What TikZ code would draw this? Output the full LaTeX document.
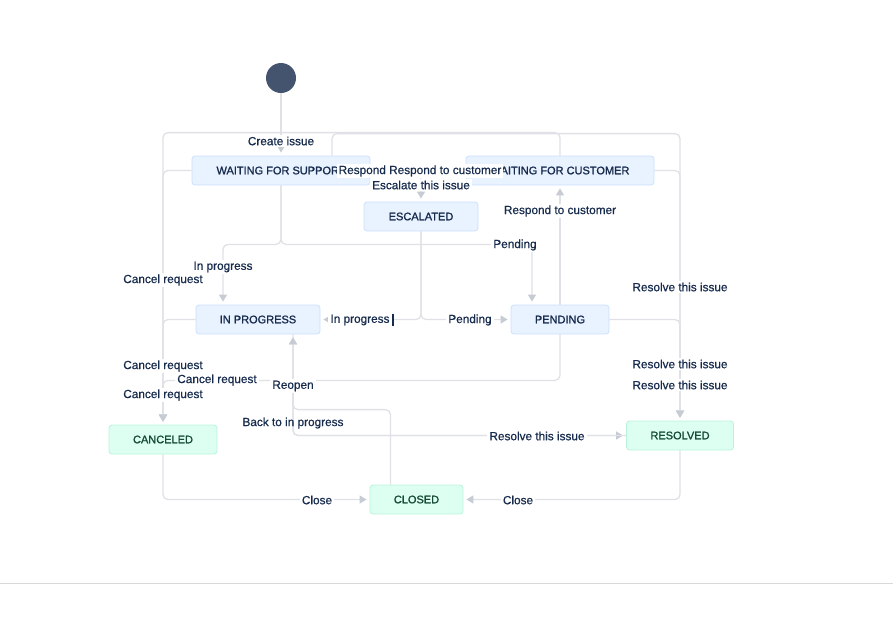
\documentclass[tikz,border=0pt]{standalone}
\usepackage{fontspec}
\setmainfont{Liberation Sans}
\newfontfamily\statusfont{Liberation Sans}[BoldFont={Liberation Sans}, BoldFeatures={FakeBold=1.3}]
\newfontfamily\labelfont{Liberation Sans}[BoldFont={Liberation Sans}, BoldFeatures={FakeBold=0.6}]
\usetikzlibrary{shapes,arrows.meta}

\definecolor{jiranavy}{HTML}{172B4D}
\definecolor{bluefill}{HTML}{E9F2FF}
\definecolor{blueline}{HTML}{CCE0FF}
\definecolor{greenfill}{HTML}{DCFFF1}
\definecolor{greenline}{HTML}{BAF3DB}
\definecolor{greentext}{HTML}{164B35}
\definecolor{startfill}{HTML}{44546F}
\definecolor{linegray}{HTML}{DFE1E6}
\definecolor{tipgray}{HTML}{C7CBD3}

\begin{document}
\begin{tikzpicture}[
    x=1pt, y=-1pt,
    status/.style={rectangle,rounded corners=3pt,draw=blueline,fill=bluefill,line width=0.8pt,text=jiranavy,font=\statusfont\bfseries\fontsize{11}{13}\selectfont,minimum height=29pt,inner sep=0pt},
    done/.style={status,draw=greenline,fill=greenfill,text=greentext},
    startdot/.style={circle,fill=startfill,minimum size=30pt,inner sep=0pt},
    link/.style={draw=linegray,line width=1.3pt,rounded corners=5pt},
    arrow/.style={link,-{Triangle[width=8pt,length=7pt,color=tipgray]},shorten >=3pt},
    lbl/.style={fill=white,text=jiranavy,font=\labelfont\bfseries\fontsize{11.8}{14}\selectfont,inner xsep=2pt,inner ysep=1.5pt},
    cursorbar/.style={draw=jiranavy,line width=2pt},
    sepline/.style={draw=black!15,line width=0.8pt}
]
\useasboundingbox (0,0) rectangle (893,640);

% Start
\node[startdot] (start) at (281,78) {};

% Estados
\node[status, minimum width=178pt] (support) at (281,170.5) {WAITING FOR SUPPORT};
\node[status, minimum width=188pt] (customer) at (560,170.5) {WAITING FOR CUSTOMER};
\node[status, minimum width=114pt] (escalated) at (421,216.5) {ESCALATED};
\node[status, minimum width=124pt] (progress) at (258,319.5) {IN PROGRESS};
\node[status, minimum width=98pt] (pending) at (560,319.5) {PENDING};
\node[done, minimum width=108pt] (canceled) at (163,439.5) {CANCELED};
\node[done, minimum width=107pt] (resolved) at (680,435.5) {RESOLVED};
\node[done, minimum width=93pt] (closed) at (416.5,499.5) {CLOSED};

% Transiciones
\draw[arrow] (start) -- (support);
\draw[arrow] (customer.north) -- ++(0,-23) -| (canceled.north);
\draw[arrow] ([xshift=51pt]support.north) -- ++(0,-22) -| (resolved.north);
\draw[arrow] (support.west) -| (canceled.north);
\draw[arrow] (customer.east) -| (resolved.north);
\draw[arrow] (progress.west) -| (canceled.north);
\draw[arrow] (pending.south) -- ++(0,46) -| (canceled.north);
\draw[arrow] (pending.east) -| (resolved.north);
\draw[arrow] (support.south) -- ++(0,59) -| ([xshift=-35pt]progress.north);
\draw[arrow] (support.south) -- ++(0,59) -| ([xshift=-28pt]pending.north);
\draw[arrow] (support.east) -- (customer.west);
\draw[arrow] (support.east) -| (escalated.north);
\draw[arrow] (escalated.south) |- (progress.east);
\draw[arrow] (escalated.south) |- (pending.west);
\draw[arrow] (pending.north) -- (customer.south);
\draw[arrow] ([xshift=-26pt]closed.north) -- ++(0,-75) -| ([xshift=35pt]progress.south);
\draw[arrow] ([xshift=35pt]progress.south) |- (resolved.west);
\draw[arrow] (resolved.west) -| ([xshift=35pt]progress.south);
\draw[arrow] (canceled.south) |- (closed.west);
\draw[arrow] (resolved.south) |- (closed.east);

% Etiquetas
\node[lbl] (create) at (281,141) {Create issue};
\node[lbl] (escalate) at (421,185) {Escalate this issue};
\node[lbl] (respond) at (420,171) {Respond Respond to customer};
\node[lbl] (respondpend) at (560,211) {Respond to customer};
\node[lbl] (pendsup) at (515,245) {Pending};
\node[lbl] (progsup) at (223,267) {In progress};
\node[lbl] (cancelsup) at (163,280) {Cancel request};
\node[lbl] (resolvesup) at (680,287) {Resolve this issue};
\node[lbl] (progesc) at (360,320) {In progress};
\node[lbl] (pendesc) at (470,320) {Pending};
\node[lbl] (cancelcus) at (163,366) {Cancel request};
\node[lbl] (resolvecus) at (680,364) {Resolve this issue};
\node[lbl] (cancelpend) at (217,380) {Cancel request};
\node[lbl] (reopen) at (293,386) {Reopen};
\node[lbl] (resolvepend) at (680,385) {Resolve this issue};
\node[lbl] (cancelprog) at (163,395) {Cancel request};
\node[lbl, fill=none] (backprog) at (293,423) {Back to in progress};
\node[lbl] (resolveprog) at (537,436) {Resolve this issue};
\node[lbl] (closecan) at (317,500) {Close};
\node[lbl] (closeres) at (518,500) {Close};

% Cursor y separador
\draw[cursorbar] (393,314) -- (393,326);
\draw[sepline] (0,583) -- (893,583);

\end{tikzpicture}
\end{document}
